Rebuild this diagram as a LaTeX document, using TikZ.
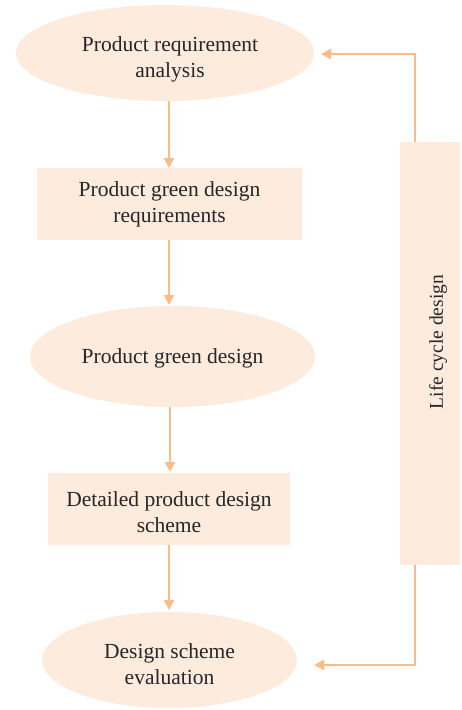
\documentclass[tikz,border=0pt]{standalone}
\usepackage{fontspec}
\setmainfont{Liberation Serif}
\usetikzlibrary{arrows.meta,shapes.geometric}
\definecolor{boxfill}{RGB}{253,235,222}
\definecolor{linec}{RGB}{250,188,136}
\tikzset{
  txt/.style={font=\fontsize{21.5}{26}\selectfont,text=black!85,align=center},
  ell/.style={ellipse,fill=boxfill,draw=none,inner sep=0pt},
  rbox/.style={rectangle,fill=boxfill,draw=none,inner sep=0pt},
  conn/.style={draw=linec,line width=2.2pt,-{Triangle[length=10pt,width=10pt]}},
}
\begin{document}
\begin{tikzpicture}[x=1pt,y=-1pt]
\useasboundingbox (0,0) rectangle (461,710);
\node[ell,minimum width=298pt,minimum height=96pt] (e1) at (165,53) {};
\node[txt] (t1) at (170,59) {Product requirement\\analysis};
\node[rbox,minimum width=265pt,minimum height=72pt] (r2) at (169.5,204) {};
\node[txt] (t2) at (169.5,204) {Product green design\\requirements};
\node[ell,minimum width=285pt,minimum height=101pt] (e3) at (172.5,356.5) {};
\node[txt] (t3) at (172.5,358) {Product green design};
\node[rbox,minimum width=242pt,minimum height=72pt] (r4) at (169,509) {};
\node[txt] (t4) at (169,512) {Detailed product design\\scheme};
\node[ell,minimum width=255pt,minimum height=96pt] (e5) at (169.5,660) {};
\node[txt] (t5) at (169.5,664) {Design scheme\\evaluation};
\node[rbox,minimum width=60pt,minimum height=423pt] (lc) at (430,353.5) {};
\node[rotate=90,txt,font=\fontsize{19.5}{24}\selectfont] (lct) at (438,342) {Life cycle design};
\draw[conn] (e1.south -| 169,0) -- (169,168);
\draw[conn] (r2.south -| 169,0) -- (169,305);
\draw[conn] (e3.south -| 170,0) -- (170,472);
\draw[conn] (r4.south -| 169,0) -- (169,610);
\coordinate (c1) at (415,54);
\coordinate (c2) at (415,665);
\draw[conn] (lc.north -| c1) -- (c1) -- (321,54);
\draw[conn] (lc.south -| c2) -- (c2) -- (314,665);
\end{tikzpicture}
\end{document}
